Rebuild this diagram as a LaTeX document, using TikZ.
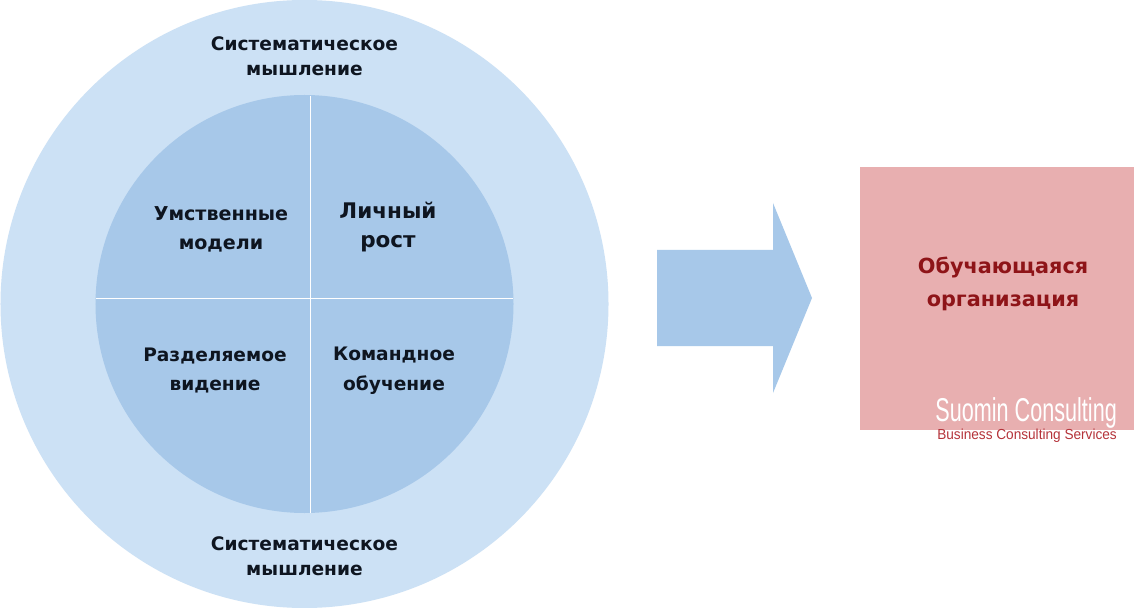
\documentclass[tikz,border=0pt]{standalone}
\usepackage{fontspec}
\setmainfont{DejaVu Sans}
\newfontfamily\thinfont{Liberation Sans}
\definecolor{outerc}{HTML}{CCE1F5}
\definecolor{innerc}{HTML}{A7C8E9}
\definecolor{boxc}{HTML}{E8AFB0}
\definecolor{redt}{HTML}{8E1418}
\definecolor{darkt}{HTML}{0E1520}
\definecolor{brand}{HTML}{B5333A}
\tikzset{
 lbl/.style={font=\fontsize{18.6bp}{25bp}\selectfont\bfseries, text=darkt, align=center, inner sep=0pt},
 qlbl/.style={font=\fontsize{18.6bp}{29.5bp}\selectfont\bfseries, text=darkt, align=center, inner sep=0pt},
 redlbl/.style={font=\fontsize{20.8bp}{33bp}\selectfont\bfseries, text=redt, align=center, inner sep=0pt},
}
\begin{document}
\begin{tikzpicture}[x=1bp,y=-1bp]
\useasboundingbox (0,0) rectangle (1134,608);
\fill[white] (0,0) rectangle (1134,608);
\node[circle,fill=outerc,minimum size=608bp,inner sep=0pt] (outer) at (304.5,304) {};
\node[circle,fill=innerc,minimum size=418bp,inner sep=0pt] (inner) at (304.5,304) {};
\draw[white,line width=1bp] (310,96) -- (310,513);
\draw[white,line width=1bp] (96,298) -- (513,298);
\node[lbl] (s1) at (304.5,56) {Систематическое\\мышление};
\node[lbl] (s2) at (304.5,556) {Систематическое\\мышление};
\node[qlbl,font=\fontsize{19.1bp}{29.5bp}\selectfont\bfseries] (q1) at (221,229.5) {Умственные\\модели};
\node[qlbl,font=\fontsize{21.5bp}{29bp}\selectfont\bfseries] (q2) at (388,227.5) {Личный\\рост};
\node[qlbl] (q3) at (215,370.5) {Разделяемое\\видение};
\node[qlbl] (q4) at (394,370.5) {Командное\\обучение};
\fill[innerc] (657,250) -- (773,250) -- (773,203) -- (812,298) -- (773,393) -- (773,346) -- (657,346) -- cycle;
\node[rectangle,fill=boxc,minimum width=274bp,minimum height=263bp,inner sep=0pt] (box) at (997,298.5) {};
\node[redlbl] (org) at (1003,283.5) {Обучающаяся\\организация};
\node[font=\thinfont\fontsize{33bp}{33bp}\selectfont,text=white,inner sep=0pt,anchor=east,xscale=0.655] (brandn) at (1117,413) {Suomin Consulting};
\node[font=\thinfont\fontsize{14.5bp}{16bp}\selectfont,text=brand,inner sep=0pt,anchor=east,xscale=0.94] (brands) at (1117,436) {Business Consulting Services};
\end{tikzpicture}
\end{document}
